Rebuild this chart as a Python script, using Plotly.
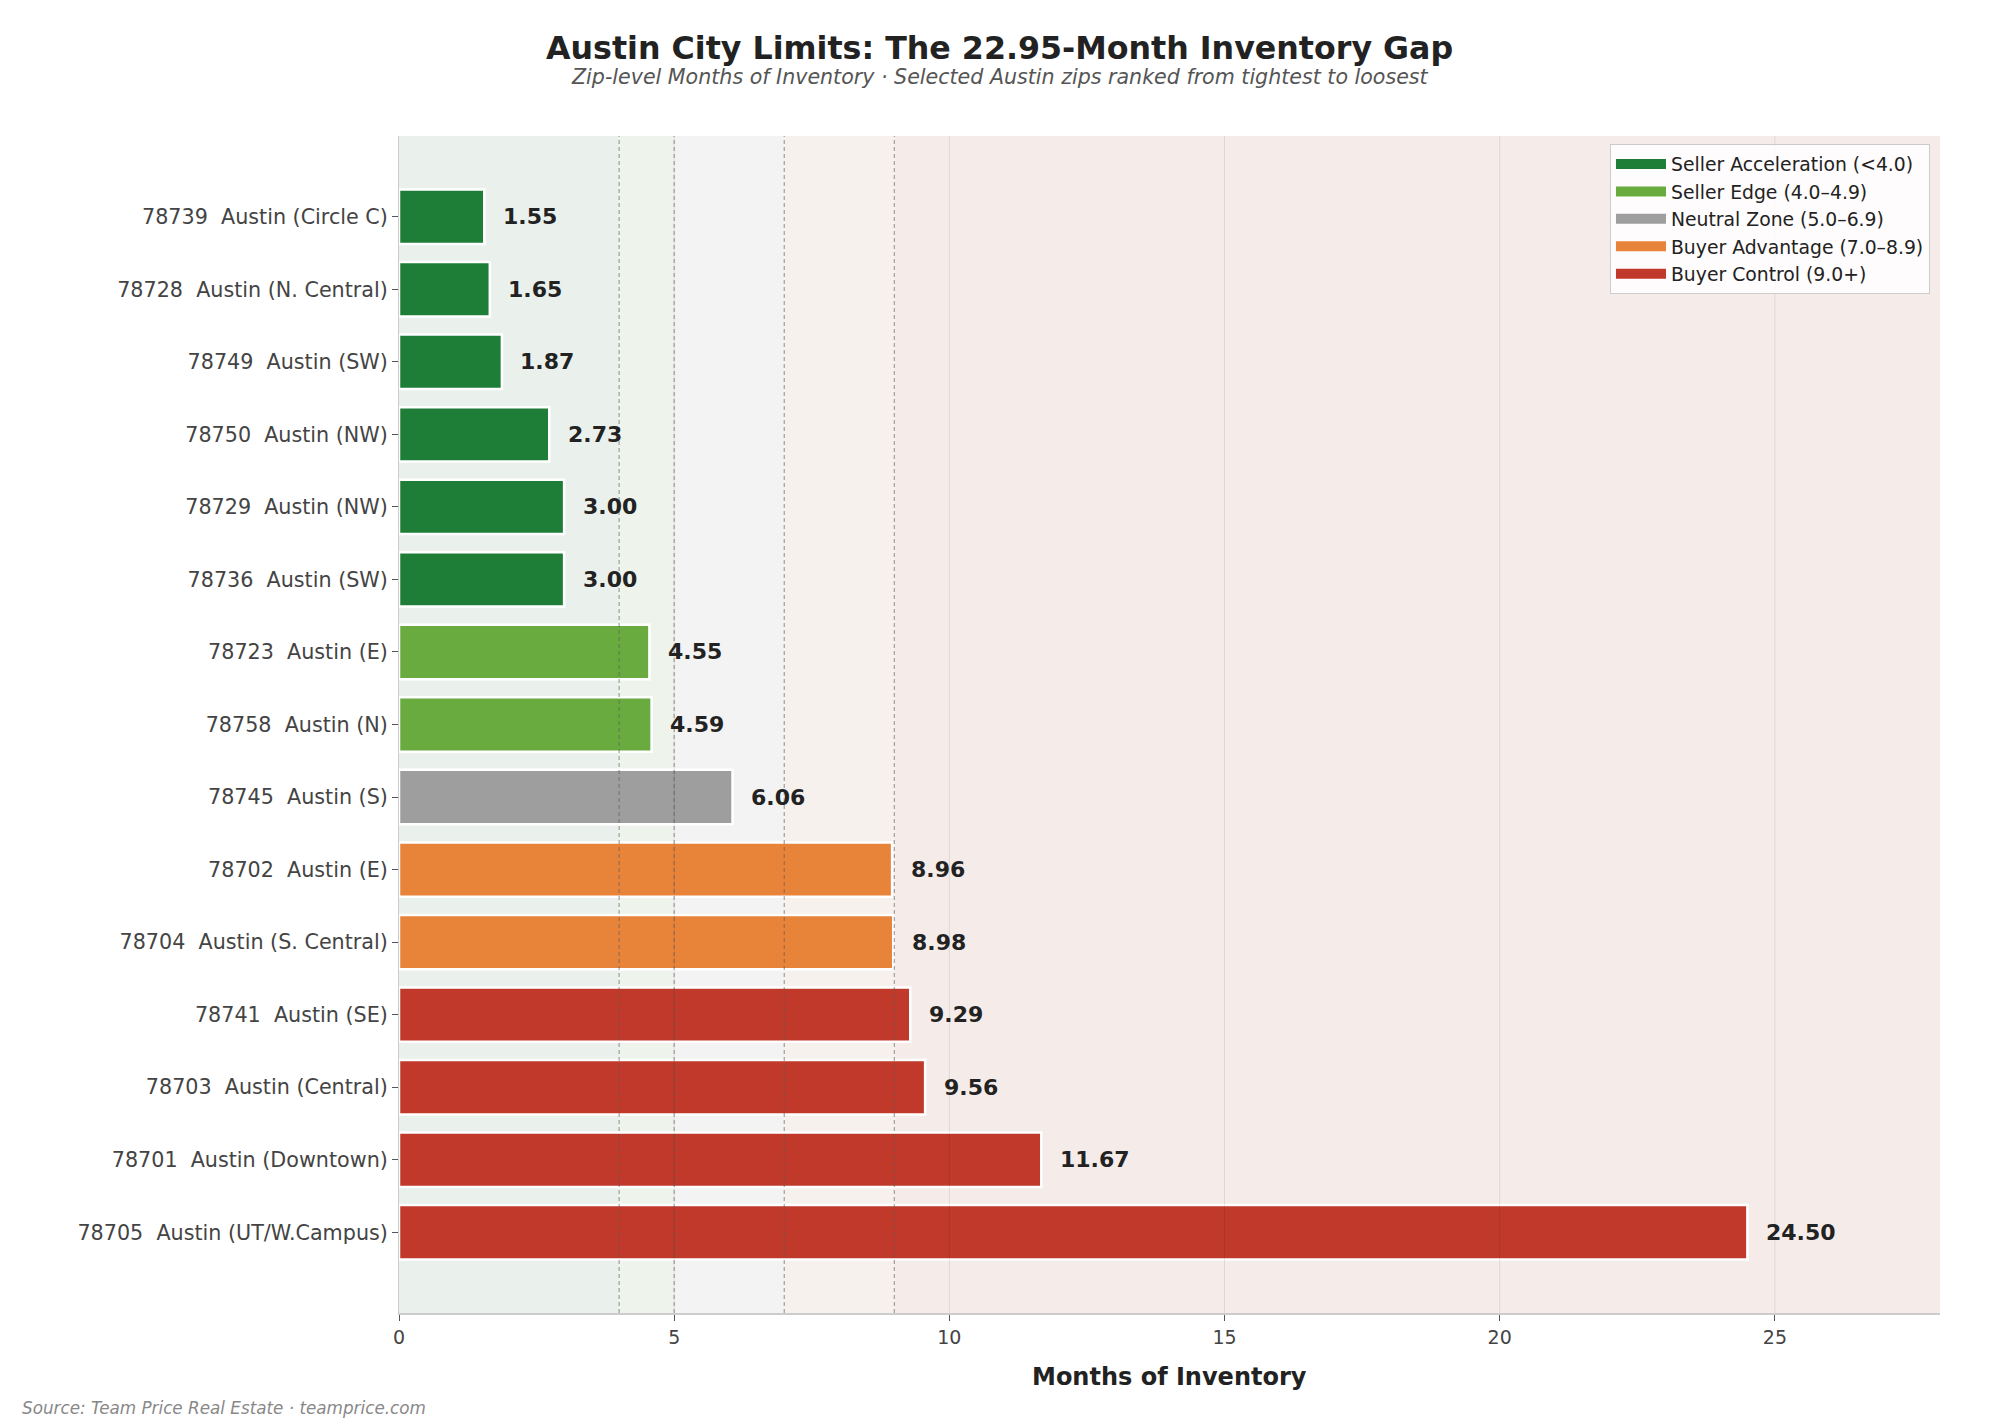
import plotly.graph_objects as go

# ---------------- data ----------------
zips = ["78739", "78728", "78749", "78750", "78729", "78736", "78723", "78758",
        "78745", "78702", "78704", "78741", "78703", "78701", "78705"]
areas = ["Circle C", "N. Central", "SW", "NW", "NW", "SW", "E", "N",
         "S", "E", "S. Central", "SE", "Central", "Downtown", "UT/W.Campus"]
months = [1.55, 1.65, 1.87, 2.73, 3.00, 3.00, 4.55, 4.59,
          6.06, 8.96, 8.98, 9.29, 9.56, 11.67, 24.50]

zone_names = ["Seller Acceleration (<4.0)", "Seller Edge (4.0–4.9)", "Neutral Zone (5.0–6.9)",
              "Buyer Advantage (7.0–8.9)", "Buyer Control (9.0+)"]
zone_bounds = [0, 4, 5, 7, 9, 28]
zone_colors = ["#1E7E38", "#6AAB40", "#9E9E9E", "#E8833A", "#C0392B"]
band_colors = ["#EAF1EC", "#EEF4EC", "#F3F3F3", "#F7F1EE", "#F5ECEA"]
thresholds = [4, 5, 7, 9]
x_ticks = [0, 5, 10, 15, 20, 25]

title = "Austin City Limits: The 22.95-Month Inventory Gap"
subtitle = "Zip-level Months of Inventory · Selected Austin zips ranked from tightest to loosest"
source = "Source: Team Price Real Estate · teamprice.com"

labels = [f"{z}  Austin ({a})" for z, a in zip(zips, areas)]

def zone_of(v):
    for i in range(len(thresholds)):
        if v < thresholds[i]:
            return i
    return len(thresholds)

FONT = "DejaVu Sans"
xmax = 28.0

fig = go.Figure()
for zi, name in enumerate(zone_names):
    ys = [labels[i] for i, v in enumerate(months) if zone_of(v) == zi]
    xs = [v for v in months if zone_of(v) == zi]
    fig.add_trace(go.Bar(
        x=xs, y=ys, orientation="h", name=name, width=0.75, showlegend=False,
        marker=dict(color=zone_colors[zi], line=dict(color="white", width=2.5)),
        hoverinfo="x+y",
    ))
# legend entries (wide rectangular swatches)
for zi, name in enumerate(zone_names):
    fig.add_trace(go.Scatter(
        x=[None], y=[None], mode="lines", name=name,
        line=dict(color=zone_colors[zi], width=14), showlegend=True,
    ))

shapes = []
# background bands
for i in range(len(band_colors)):
    shapes.append(dict(type="rect", xref="x", yref="paper",
                       x0=zone_bounds[i], x1=min(zone_bounds[i + 1], xmax), y0=0, y1=1,
                       fillcolor=band_colors[i], line=dict(width=0), layer="below"))
# grid lines (drawn above bars, faint)
for t in x_ticks[1:]:
    shapes.append(dict(type="line", xref="x", yref="paper", x0=t, x1=t, y0=0, y1=1,
                       line=dict(color="rgba(0,0,0,0.09)", width=1), layer="above"))
# threshold dashed lines
for t in thresholds:
    shapes.append(dict(type="line", xref="x", yref="paper", x0=t, x1=t, y0=0, y1=1,
                       line=dict(color="rgba(90,90,90,0.55)", width=1.2, dash="4px,3px"),
                       layer="above"))

annotations = []
for lab, v in zip(labels, months):
    annotations.append(dict(x=v + 0.3, y=lab, xref="x", yref="y", text=f"{v:.2f}",
                            showarrow=False, xanchor="left", yanchor="middle",
                            font=dict(family=FONT, size=22, color="#222222", weight="bold")))

annotations += [
    dict(text=title, xref="paper", yref="paper", x=0.3897, y=1.0748, showarrow=False,
         xanchor="center", yanchor="middle",
         font=dict(family=FONT, size=31.7, color="#222222", weight="bold")),
    dict(text=subtitle, xref="paper", yref="paper", x=0.3897, y=1.0501, showarrow=False,
         xanchor="center", yanchor="middle",
         font=dict(family=FONT, size=20.6, color="#555555", style="italic")),
    dict(text="Months of Inventory", xref="paper", yref="paper", x=0.5, y=-0.0544,
         showarrow=False, xanchor="center", yanchor="middle",
         font=dict(family=FONT, size=24, color="#222222", weight="bold")),
    dict(text=source, xref="paper", yref="paper", x=-0.246, y=-0.0807, showarrow=False,
         xanchor="left", yanchor="middle",
         font=dict(family=FONT, size=16.8, color="#888888", style="italic")),
]

fig.update_layout(
    width=1999, height=1428,
    margin=dict(l=399, r=59, t=136, b=115, pad=0),
    paper_bgcolor="white", plot_bgcolor="white",
    barmode="overlay",
    font=dict(family=FONT, color="#444444"),
    shapes=shapes, annotations=annotations,
    showlegend=True,
    legend=dict(x=0.9935, y=0.993, xanchor="right", yanchor="top",
                bgcolor="rgba(255,255,255,0.85)", bordercolor="#CCCCCC", borderwidth=1,
                font=dict(family=FONT, size=18.8, color="#222222"),
                traceorder="normal", tracegroupgap=0, itemwidth=50),
    xaxis=dict(range=[0, xmax], tickvals=x_ticks, showgrid=False, zeroline=False,
               showline=True, linecolor="#CCCCCC", linewidth=1.5,
               ticks="outside", ticklen=6, tickcolor="#555555", tickwidth=1,
               tickfont=dict(family=FONT, size=19, color="#444444")),
    yaxis=dict(categoryorder="array", categoryarray=labels,
               range=[len(labels) - 1 + 1.1125, -1.1125],
               showgrid=False, zeroline=False, showline=True, linecolor="#CCCCCC", linewidth=1,
               ticks="outside", ticklen=6, tickcolor="#555555", tickwidth=1,
               tickfont=dict(family=FONT, size=20.7, color="#444444")),
)

fig.write_html("out.html", config={"displayModeBar": False},
               post_script="document.body.style.margin='0';document.body.style.overflow='hidden';")
